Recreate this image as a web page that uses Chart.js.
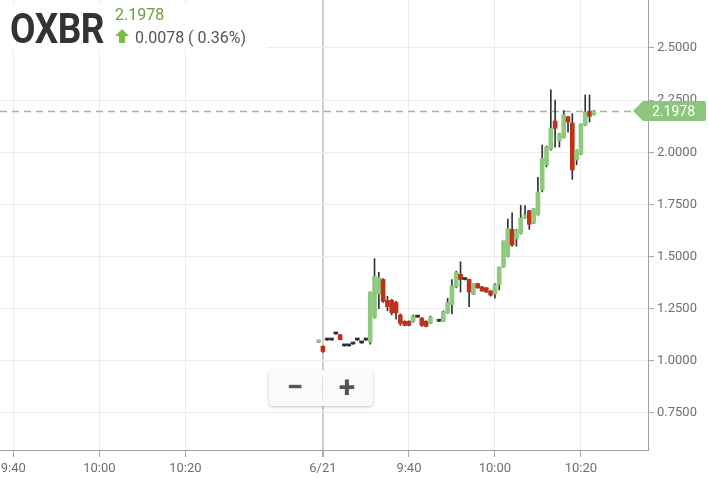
<!DOCTYPE html>
<html>
<head>
<meta charset="utf-8">
<script src="https://cdn.jsdelivr.net/npm/chart.js@4.4.1/dist/chart.umd.min.js"></script>
<style>
  body { margin: 0; background: #fff; font-family: Roboto, 'Noto Sans', sans-serif; }
  #wrap { position: relative; width: 709px; height: 490px; overflow: hidden; }
  #quote { position: absolute; left: 0; top: 4px; width: 266px; height: 46px; background: #fff; }
  #sym { position: absolute; left: 10px; top: 2px; font-size: 42px; font-weight: 700; color: #333; line-height: 46px; transform: scaleX(0.88); transform-origin: left; letter-spacing: -0.5px; }
  #last { position: absolute; left: 115px; top: 2px; font-size: 16px; color: #6b9e3d; line-height: 18px; }
  #chg { position: absolute; left: 115px; top: 24px; font-size: 16px; color: #555; line-height: 20px; white-space: nowrap; }
  #chg .up { display: inline-block; width: 0; height: 0; border-left: 7px solid transparent; border-right: 7px solid transparent; border-bottom: 7px solid #7bbd43; position: relative; top: -7px; margin-right: 2px; }
  #chg .up::after { content: ''; position: absolute; left: -3px; top: 7px; width: 6px; height: 7px; background: #7bbd43; }
  #zoom { position: absolute; left: 269px; top: 370px; width: 104px; height: 36px; background: #fafafa; border-radius: 4px; box-shadow: 0 1px 3px rgba(0,0,0,0.25); }
  #zoom span { position: absolute; top: 0; width: 52px; height: 36px; line-height: 34px; text-align: center; font-size: 30px; font-weight: 700; color: #555; }
  #zoom .sep { position: absolute; left: 53px; top: 7px; width: 1px; height: 22px; background: #ddd; }
</style>
</head>
<body>
<div id="wrap">
  <canvas id="chart" width="709" height="490"></canvas>
  <div id="quote">
    <div id="sym">OXBR</div>
    <div id="last"></div>
    <div id="chg"><span class="up"></span> <span id="chgText"></span></div>
  </div>
  <div id="zoom"><span style="left:0">&minus;</span><div class="sep"></div><span style="left:52px">+</span></div>
</div>
<script>
const symbol = 'OXBR'
const lastPrice = 2.1978
const change = 0.0078
const changePct = 0.36

// minute index: 0 = start of 6/21 session (9:20), day before sits on the left
const minutes = [-1, 0, 1, 2, 3, 4, 5, 6, 7, 8, 9, 10, 11, 12, 13, 14, 15, 16, 17, 18, 19, 20, 21, 22, 23, 24, 25, 27, 28, 29, 30, 31, 32, 33, 34, 35, 36, 37, 38, 39, 40, 41, 42, 43, 44, 45, 46, 47, 48, 49, 50, 51, 52, 53, 54, 55, 56, 57, 58, 59, 60, 61, 62, 63]
const opens = [1.090, 1.070, 1.100, 1.100, 1.129, 1.125, 1.072, 1.072, 1.081, 1.100, 1.086, 1.100, 1.090, 1.210, 1.320, 1.390, 1.290, 1.290, 1.280, 1.220, 1.190, 1.190, 1.190, 1.210, 1.205, 1.190, 1.180, 1.190, 1.190, 1.230, 1.270, 1.355, 1.415, 1.390, 1.390, 1.320, 1.370, 1.355, 1.350, 1.335, 1.320, 1.365, 1.450, 1.500, 1.630, 1.585, 1.610, 1.685, 1.720, 1.660, 1.700, 1.820, 1.940, 2.015, 2.150, 2.055, 2.070, 2.170, 2.140, 1.963, 1.990, 2.130, 2.197, 2.180]
const highs = [1.100, 1.072, 1.102, 1.102, 1.131, 1.127, 1.074, 1.074, 1.083, 1.102, 1.088, 1.102, 1.330, 1.490, 1.425, 1.395, 1.310, 1.295, 1.285, 1.225, 1.192, 1.192, 1.220, 1.212, 1.208, 1.192, 1.215, 1.192, 1.240, 1.300, 1.390, 1.430, 1.475, 1.392, 1.392, 1.370, 1.372, 1.357, 1.352, 1.337, 1.370, 1.450, 1.575, 1.680, 1.710, 1.630, 1.745, 1.745, 1.722, 1.730, 1.880, 2.035, 2.030, 2.300, 2.250, 2.092, 2.200, 2.172, 2.185, 2.012, 2.137, 2.275, 2.275, 2.200]
const lows = [1.088, 1.040, 1.098, 1.098, 1.127, 1.100, 1.070, 1.070, 1.079, 1.098, 1.084, 1.098, 1.080, 1.205, 1.250, 1.280, 1.240, 1.220, 1.200, 1.170, 1.168, 1.168, 1.185, 1.208, 1.165, 1.163, 1.178, 1.188, 1.188, 1.228, 1.225, 1.350, 1.330, 1.388, 1.260, 1.318, 1.348, 1.333, 1.328, 1.310, 1.300, 1.340, 1.448, 1.498, 1.550, 1.550, 1.608, 1.683, 1.630, 1.658, 1.698, 1.810, 1.930, 2.010, 2.025, 2.025, 2.068, 2.097, 1.870, 1.940, 1.988, 2.128, 2.145, 2.178]
const closes = [1.100, 1.045, 1.100, 1.100, 1.129, 1.102, 1.072, 1.072, 1.081, 1.100, 1.086, 1.100, 1.330, 1.405, 1.400, 1.285, 1.260, 1.230, 1.230, 1.180, 1.170, 1.170, 1.215, 1.210, 1.170, 1.165, 1.210, 1.190, 1.235, 1.280, 1.360, 1.425, 1.390, 1.390, 1.330, 1.370, 1.350, 1.335, 1.330, 1.315, 1.365, 1.450, 1.575, 1.635, 1.555, 1.625, 1.685, 1.700, 1.655, 1.730, 1.810, 1.970, 2.025, 2.115, 2.115, 2.090, 2.180, 2.145, 1.915, 2.010, 2.135, 2.193, 2.173, 2.1978]

const xTickValues = [-72, -52, -32, 0, 20, 40, 60]
const xTickLabels = ['9:40', '10:00', '10:20', '6/21', '9:40', '10:00', '10:20']
const dayBreak = 0
const yTickValues = [0.75, 1.0, 1.25, 1.5, 1.75, 2.0, 2.25, 2.5]

const UP = '#8fc97d'
const DOWN = '#c1301b'
const WICK = '#2e3337'
const GRID = '#ececec'

document.getElementById('last').textContent = lastPrice.toFixed(4)
document.getElementById('chgText').textContent = change.toFixed(4) + ' ( ' + changePct.toFixed(2) + '%)'

const bodyColors = opens.map((o, i) => (closes[i] > o ? UP : closes[i] < o ? DOWN : WICK))

const priceLine = {
  id: 'priceLine',
  beforeDatasetsDraw(chart) {
    const { ctx, chartArea, scales } = chart
    const y = Math.round(scales.y.getPixelForValue(lastPrice)) + 0.5
    ctx.save()
    ctx.strokeStyle = '#8cc87a'
    ctx.lineWidth = 1.5
    ctx.setLineDash([7, 5])
    ctx.beginPath()
    ctx.moveTo(chartArea.left, y)
    ctx.lineTo(chartArea.right - 14, y)
    ctx.stroke()
    ctx.restore()
  },
  afterDraw(chart) {
    const { ctx, chartArea, scales } = chart
    const y = Math.round(scales.y.getPixelForValue(lastPrice))
    const x0 = chartArea.right - 15
    const x1 = chart.width - 3
    ctx.save()
    ctx.fillStyle = '#8dc57e'
    ctx.beginPath()
    ctx.moveTo(x0, y)
    ctx.lineTo(x0 + 10, y - 10)
    ctx.lineTo(x1 - 2, y - 10)
    ctx.quadraticCurveTo(x1, y - 10, x1, y - 8)
    ctx.lineTo(x1, y + 8)
    ctx.quadraticCurveTo(x1, y + 10, x1 - 2, y + 10)
    ctx.lineTo(x0 + 10, y + 10)
    ctx.closePath()
    ctx.fill()
    ctx.fillStyle = '#fff'
    ctx.font = '14px Roboto'
    ctx.textAlign = 'left'
    ctx.textBaseline = 'middle'
    ctx.fillText(lastPrice.toFixed(4), chartArea.right + 4, y + 1)
    ctx.restore()
  },
}

new Chart(document.getElementById('chart'), {
  type: 'bar',
  data: {
    datasets: [
      {
        label: 'body',
        data: minutes.map((m, i) => ({ x: m, y: [opens[i], closes[i]] })),
        backgroundColor: bodyColors,
        barThickness: 4,
        minBarLength: 2,
        grouped: false,
      },
      {
        label: 'wick',
        data: minutes.map((m, i) => ({ x: m, y: [lows[i], highs[i]] })),
        backgroundColor: WICK,
        barThickness: 1,
        minBarLength: 1,
        grouped: false,
      },
    ],
  },
  options: {
    responsive: false,
    animation: false,
    layout: { padding: 0 },
    plugins: { legend: { display: false }, tooltip: { enabled: false } },
    scales: {
      x: {
        type: 'linear',
        offset: false,
        min: -75.1,
        max: 75.6,
        afterBuildTicks: (scale) => { scale.ticks = xTickValues.map((v) => ({ value: v })) },
        afterFit: (scale) => { scale.height = 40; scale.paddingLeft = 0; scale.paddingRight = 0 },
        ticks: {
          autoSkip: false,
          maxRotation: 0,
          padding: 4,
          color: '#707070',
          font: { family: 'Roboto', size: 13 },
          callback: (value, index) => xTickLabels[index],
        },
        grid: {
          offset: false,
          color: (c) => (c.tick && c.tick.value === dayBreak ? '#cfcfcf' : GRID),
          lineWidth: (c) => (c.tick && c.tick.value === dayBreak ? 2 : 1),
          tickColor: '#a8a8a8',
          tickLength: 7,
        },
        border: { color: '#a0a0a0' },
      },
      y: {
        position: 'right',
        min: 0.5726,
        max: 2.7301,
        afterBuildTicks: (scale) => { scale.ticks = yTickValues.map((v) => ({ value: v })) },
        afterFit: (scale) => { scale.width = 61; scale.paddingTop = 0; scale.paddingBottom = 0 },
        ticks: {
          padding: 3,
          color: '#707070',
          font: { family: 'Roboto', size: 13 },
          callback: (value) => Number(value).toFixed(4),
        },
        grid: { color: GRID, tickColor: '#a8a8a8', tickLength: 6 },
        border: { color: '#a0a0a0' },
      },
    },
  },
  plugins: [priceLine],
})
</script>
</body>
</html>
